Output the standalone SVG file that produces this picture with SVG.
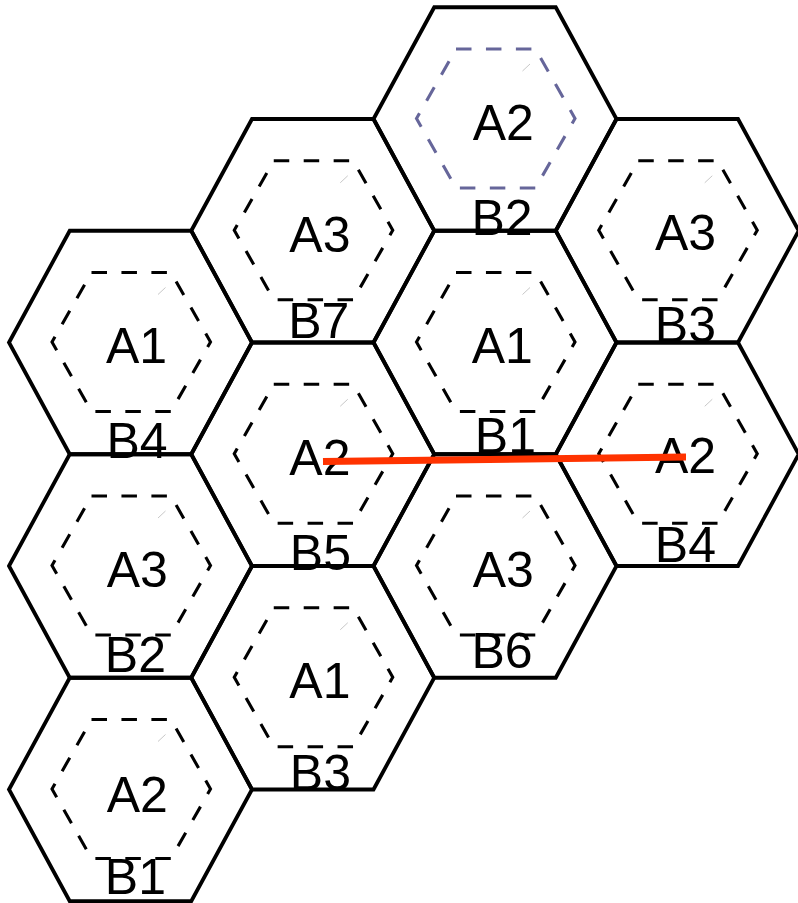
<svg xmlns="http://www.w3.org/2000/svg" xmlns:xlink="http://www.w3.org/1999/xlink" width="798" height="903" viewBox="0 0 798 903">
<style>
.outer{fill:none;stroke:#000;stroke-width:3.8;stroke-linejoin:miter}
.inner{fill:none;stroke:#000;stroke-width:3.1;stroke-dasharray:15.5 14.45}
.blue{stroke:#66669a}
.tick{stroke:#c8c8c8;stroke-width:1}
.lbl{font-family:"Liberation Sans",Arial,sans-serif;font-size:50px;fill:#000}
.link{stroke:#ff3300;stroke-width:7;fill:none}
</style>
<defs>
<polygon id="hexO" class="outer" points="-121.5,0 -60.75,-111.75 60.75,-111.75 121.5,0 60.75,111.75 -60.75,111.75"/>
<polygon id="hexI" class="inner" points="-39,-70 40.5,-70 80,-0.5 40.5,69 -39,69 -78.5,-0.5"/>
<polygon id="hexIB" class="inner blue" points="-39,-70 40.5,-70 80,-0.5 40.5,69 -39,69 -78.5,-0.5"/>
<line id="tk" class="tick" x1="27.5" y1="-48" x2="35" y2="-55"/>
</defs>
<rect width="798" height="903" fill="#fff"/>
<g id="cell-c0-r2" transform="translate(130.5,342.5)">
<use xlink:href="#hexO"/><use xlink:href="#hexI"/><use xlink:href="#tk"/>
</g>
<g id="cell-c0-r4" transform="translate(130.5,566)">
<use xlink:href="#hexO"/><use xlink:href="#hexI"/><use xlink:href="#tk"/>
</g>
<g id="cell-c0-r6" transform="translate(130.5,789.5)">
<use xlink:href="#hexO"/><use xlink:href="#hexI"/><use xlink:href="#tk"/>
</g>
<g id="cell-c1-r1" transform="translate(312.75,230.75)">
<use xlink:href="#hexO"/><use xlink:href="#hexI"/><use xlink:href="#tk"/>
</g>
<g id="cell-c1-r3" transform="translate(312.75,454.25)">
<use xlink:href="#hexO"/><use xlink:href="#hexI"/><use xlink:href="#tk"/>
</g>
<g id="cell-c1-r5" transform="translate(312.75,677.75)">
<use xlink:href="#hexO"/><use xlink:href="#hexI"/><use xlink:href="#tk"/>
</g>
<g id="cell-c2-r0" transform="translate(495,119)">
<use xlink:href="#hexO"/><use xlink:href="#hexIB"/><use xlink:href="#tk"/>
</g>
<g id="cell-c2-r2" transform="translate(495,342.5)">
<use xlink:href="#hexO"/><use xlink:href="#hexI"/><use xlink:href="#tk"/>
</g>
<g id="cell-c2-r4" transform="translate(495,566)">
<use xlink:href="#hexO"/><use xlink:href="#hexI"/><use xlink:href="#tk"/>
</g>
<g id="cell-c3-r1" transform="translate(677.25,230.75)">
<use xlink:href="#hexO"/><use xlink:href="#hexI"/><use xlink:href="#tk"/>
</g>
<g id="cell-c3-r3" transform="translate(677.25,454.25)">
<use xlink:href="#hexO"/><use xlink:href="#hexI"/><use xlink:href="#tk"/>
</g>
<g id="labels" class="lbl">
<text x="106" y="363.3">A1</text><text x="106.5" y="458.3">B4</text>
<text x="106.7" y="586.7">A3</text><text x="104.8" y="671.7">B2</text>
<text x="106.7" y="811.7">A2</text><text x="104.8" y="894">B1</text>
<text x="289.3" y="251.7">A3</text><text x="288.2" y="338.3">B7</text>
<text x="289.3" y="475">A2</text><text x="289.8" y="570">B5</text>
<text x="289.3" y="698.3">A1</text><text x="289.8" y="790">B3</text>
<text x="472.7" y="140">A2</text><text x="471.5" y="235">B2</text>
<text x="471.7" y="362.7">A1</text><text x="474.8" y="453.3">B1</text>
<text x="472.7" y="586.7">A3</text><text x="471.5" y="668.3">B6</text>
<text x="655" y="250">A3</text><text x="654.8" y="341.7">B3</text>
<text x="655" y="473.3">A2</text><text x="654.8" y="561.7">B4</text>
</g>
<g id="connectors">
<line class="link" x1="323" y1="461.5" x2="686" y2="457"/>
</g>
</svg>
